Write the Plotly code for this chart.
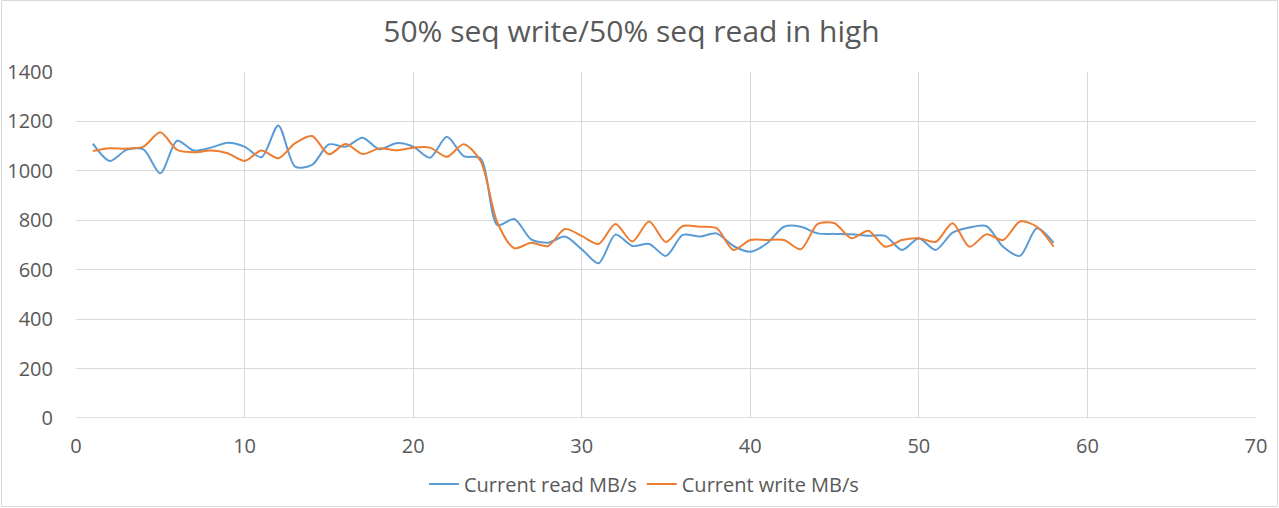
import plotly.graph_objects as go

x_vals = list(range(1, 59))
read_mbs = [1110, 1040, 1085, 1087, 990, 1122, 1082, 1094, 1114, 1098,
            1055, 1184, 1017, 1024, 1107, 1098, 1134, 1087, 1112, 1098,
            1053, 1138, 1060, 1050, 780, 805, 723, 709, 734, 683,
            626, 742, 696, 704, 656, 741, 734, 747, 696, 673,
            707, 774, 774, 747, 745, 743, 737, 737, 680, 726,
            680, 750, 771, 777, 693, 656, 768, 709]
write_mbs = [1080, 1091, 1090, 1098, 1156, 1085, 1075, 1082, 1071, 1040,
             1082, 1051, 1112, 1141, 1067, 1109, 1068, 1091, 1083, 1094,
             1094, 1057, 1108, 1040, 790, 687, 709, 696, 765, 737,
             704, 785, 714, 795, 712, 777, 774, 768, 680, 720,
             720, 720, 683, 785, 788, 727, 758, 693, 720, 727,
             713, 788, 693, 743, 720, 795, 774, 693]

title_text = "50% seq write/50% seq read in high"
series_names = ["Current read MB/s", "Current write MB/s"]
x_ticks = [0, 10, 20, 30, 40, 50, 60, 70]
y_ticks = [0, 200, 400, 600, 800, 1000, 1200, 1400]

W, H = 1279, 508
L, R, T, B = 76, 23, 72, 90
pw, ph = W - L - R, H - T - B

fig = go.Figure()
fig.add_trace(go.Scatter(x=x_vals, y=read_mbs, mode="lines", name=series_names[0],
                         line=dict(color="#5B9BD5", width=2, shape="spline", smoothing=0.8)))
fig.add_trace(go.Scatter(x=x_vals, y=write_mbs, mode="lines", name=series_names[1],
                         line=dict(color="#ED7D31", width=2, shape="spline", smoothing=0.8)))

fig.update_layout(
    width=W, height=H,
    paper_bgcolor="white", plot_bgcolor="white",
    margin=dict(l=L, r=R, t=T, b=B, autoexpand=False),
    title=dict(text=title_text, x=0.5 - 8 / W, xanchor="center", y=1 - 31 / H, yanchor="middle",
               font=dict(family="Open Sans", size=30, color="#595959")),
    font=dict(family="Open Sans", color="#595959"),
    showlegend=True,
    legend=dict(orientation="h", x=0.5 - 22 / pw, xanchor="center", y=(418 - 484) / ph,
                yanchor="middle", font=dict(size=20, color="#595959"),
                itemwidth=30, tracegroupgap=0),
    xaxis=dict(range=[0, 70], tickvals=x_ticks, showgrid=True, gridcolor="#D9D9D9",
               zeroline=False, showline=False, ticks="", automargin=False,
               ticklabelstandoff=14, tickfont=dict(size=20, color="#595959")),
    yaxis=dict(range=[0, 1400], tickvals=y_ticks, showgrid=True, gridcolor="#D9D9D9",
               zeroline=False, showline=False, ticks="", automargin=False,
               ticklabelstandoff=22, tickfont=dict(size=20, color="#595959")),
)
fig.add_shape(type="line", xref="x", yref="y", x0=0, x1=70, y0=0, y1=0,
              line=dict(color="#BFBFBF", width=1))
# faint outer border of the chart
fig.add_shape(type="rect", xref="paper", yref="paper", layer="above",
              x0=(1.5 - L) / pw, x1=(W - 1.5 - L) / pw,
              y0=(H - B - (H - 1.5)) / ph, y1=(H - B - 0.5) / ph,
              line=dict(color="#D9D9D9", width=1), fillcolor="rgba(0,0,0,0)")
fig.write_html("out.html", config={"displayModeBar": False},
               post_script="document.body.style.margin='0';")
